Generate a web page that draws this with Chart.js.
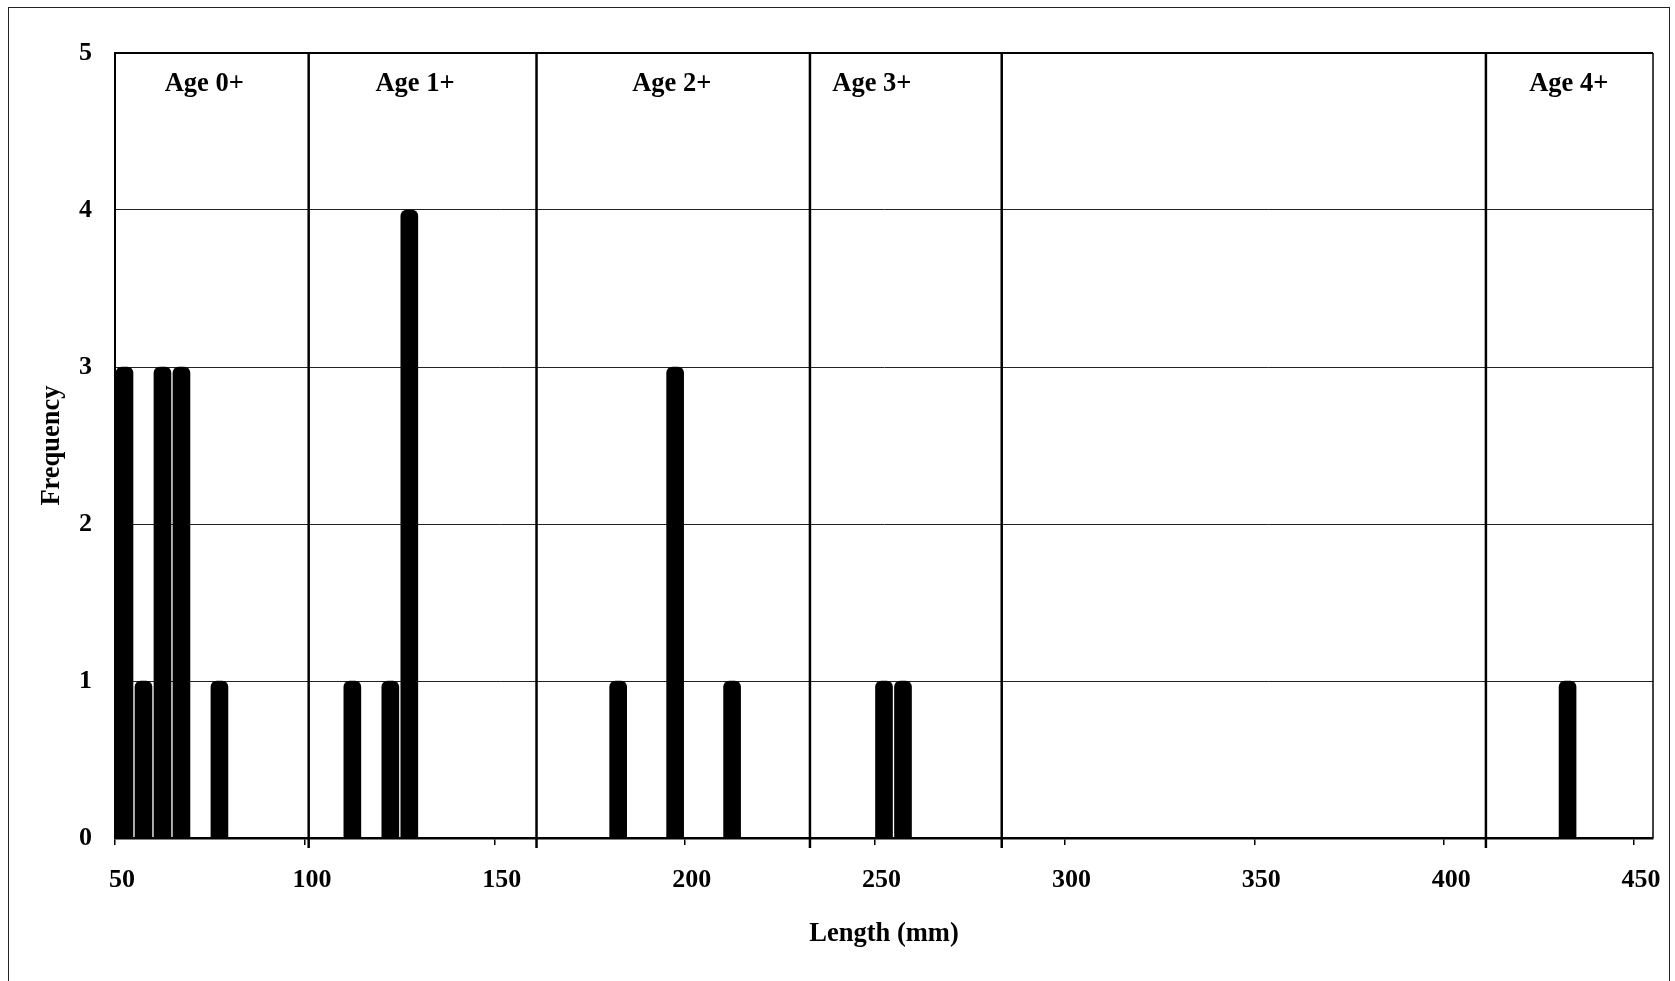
<!DOCTYPE html>
<html>
<head>
<meta charset="utf-8">
<script src="https://cdn.jsdelivr.net/npm/chart.js@4.4.1/dist/chart.umd.min.js"></script>
<style>
  html, body { margin: 0; padding: 0; background: #fff; overflow: hidden; }
  #wrap { position: relative; width: 1675px; height: 981px; }
  #frame { position: absolute; left: 8px; top: 7px; width: 1662px; height: 1000px; border: 1.5px solid #222; box-sizing: border-box; }
  canvas { position: absolute; left: 0; top: 0; }
</style>
</head>
<body>
<div id="wrap">
  <div id="frame"></div>
  <canvas id="chart" width="1675" height="981"></canvas>
</div>
<script>
// length-frequency data (5 mm bins, midpoints)
const lengths = [52.5, 57.5, 62.5, 67.5, 77.5, 112.5, 122.5, 127.5, 182.5, 197.5, 212.5, 252.5, 257.5, 432.5];
const freqs   = [3, 1, 3, 3, 1, 1, 1, 4, 1, 3, 1, 1, 1, 1];
const xTicks = [50, 100, 150, 200, 250, 300, 350, 400, 450];
const yTicks = [0, 1, 2, 3, 4, 5];

// age class boundaries and labels (in mm)
const ageBounds = [101, 161, 233, 283.5, 411];
const ageNames = ["Age 0+", "Age 1+", "Age 2+", "Age 3+", "Age 4+"];
const ageLabelAt = [73.5, 129, 196.6, 249.3, 432.8];

const FONT = "'Liberation Serif', 'Times New Roman', serif";

const ageLines = {
  id: "ageLines",
  afterDatasetsDraw(chart) {
    const { ctx, chartArea: a, scales: { x } } = chart;
    ctx.save();
    ctx.strokeStyle = "#000";
    // plot frame
    ctx.lineWidth = 2;
    ctx.beginPath();
    ctx.moveTo(a.left, a.top);
    ctx.lineTo(a.right, a.top);
    ctx.stroke();
    ctx.lineWidth = 1.5;
    ctx.beginPath();
    ctx.moveTo(a.right, a.top);
    ctx.lineTo(a.right, a.bottom);
    ctx.stroke();
    // separators
    ctx.lineWidth = 2.5;
    ageBounds.forEach(b => {
      const px = x.getPixelForValue(b);
      ctx.beginPath();
      ctx.moveTo(px, a.top);
      ctx.lineTo(px, a.bottom + 10);
      ctx.stroke();
    });
    ctx.fillStyle = "#000";
    ctx.font = "bold 26.5px " + FONT;
    ctx.textAlign = "center";
    ctx.textBaseline = "middle";
    ageNames.forEach((n, i) => {
      ctx.fillText(n, x.getPixelForValue(ageLabelAt[i]), a.top + 31);
    });
    ctx.restore();
  }
};

new Chart(document.getElementById("chart"), {
  type: "bar",
  data: {
    datasets: [{
      data: lengths.map((v, i) => ({ x: v, y: freqs[i] })),
      backgroundColor: "#000",
      borderWidth: 0,
      barThickness: 17,
      borderRadius: { topLeft: 6, topRight: 6, bottomLeft: 0, bottomRight: 0 },
      borderSkipped: "bottom"
    }]
  },
  options: {
    responsive: false,
    animation: false,
    layout: { padding: { left: 0, top: 53, right: 22, bottom: 0 } },
    plugins: { legend: { display: false }, tooltip: { enabled: false } },
    scales: {
      x: {
        type: "linear",
        offset: false,
        min: 50,
        max: 455,
        afterBuildTicks: s => { s.ticks = xTicks.map(v => ({ value: v })); },
        afterFit: s => { s.height = 143; },
        grid: { offset: false, drawOnChartArea: false, drawTicks: true, tickLength: 7, color: "#000", lineWidth: 1.5 },
        border: { color: "#000", width: 2.5 },
        ticks: { color: "#000", padding: 20, labelOffset: 7, maxRotation: 0, font: { family: FONT, size: 26, weight: "bold" } },
        title: {
          display: true, text: "Length (mm)", color: "#000",
          padding: { top: 0, bottom: 31 },
          font: { family: FONT, size: 26.5, weight: "bold" }
        }
      },
      y: {
        min: 0,
        max: 5,
        afterBuildTicks: s => { s.ticks = yTicks.map(v => ({ value: v })); },
        afterFit: s => { s.width = 115; },
        grid: { color: "#222", lineWidth: 1, drawTicks: false },
        border: { color: "#000", width: 2 },
        ticks: { color: "#000", padding: 23, font: { family: FONT, size: 26, weight: "bold" } },
        title: {
          display: true, text: "Frequency", color: "#000",
          padding: { top: 36, bottom: 0 },
          font: { family: FONT, size: 26.5, weight: "bold" }
        }
      }
    }
  },
  plugins: [ageLines]
});
</script>
</body>
</html>
